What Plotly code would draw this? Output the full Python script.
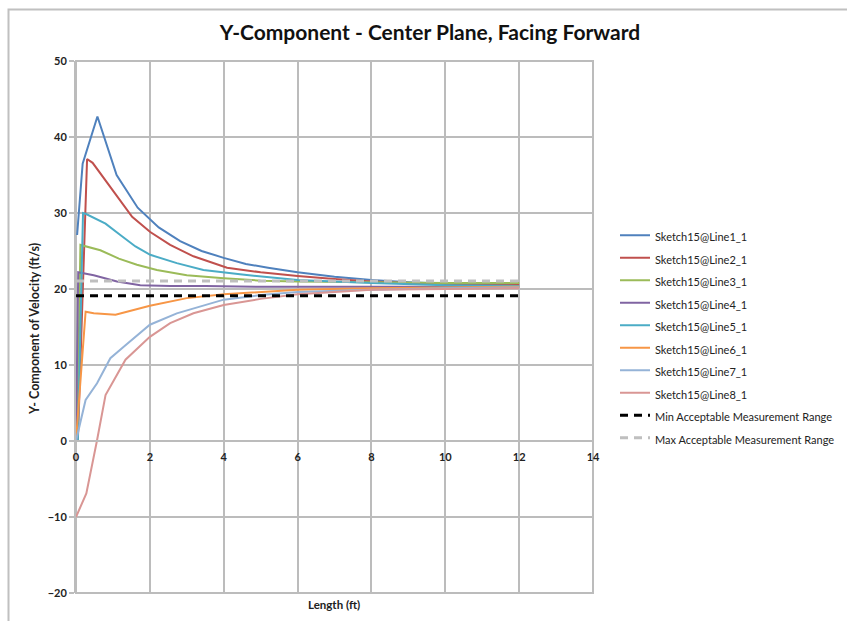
import plotly.graph_objects as go

# Velocity profiles along each sketch line (Length in ft, Y-velocity in ft/s)
line1_x = [0.03, 0.18, 0.58, 1.1, 1.67, 2.24, 2.82, 3.4, 4.0, 4.6, 5.2, 6, 7, 8, 9, 10, 11, 12]
line1_y = [27.1, 36.5, 42.7, 35.0, 30.7, 28.1, 26.3, 25.0, 24.1, 23.3, 22.8, 22.2, 21.6, 21.2, 20.9, 20.7, 20.6, 20.6]

line2_x = [0.05, 0.3, 0.45, 1.07, 1.52, 2.01, 2.55, 3.18, 4.09, 5, 6, 7, 8, 9, 10, 11, 12]
line2_y = [0, 37.1, 36.6, 32.4, 29.5, 27.5, 25.8, 24.3, 22.8, 22.2, 21.7, 21.3, 21.0, 20.8, 20.7, 20.6, 20.6]

line3_x = [0.03, 0.12, 0.66, 1.16, 1.65, 2.19, 3.0, 4, 5, 6, 8, 10, 12]
line3_y = [0, 25.8, 25.1, 24.0, 23.2, 22.5, 21.8, 21.4, 21.1, 21.0, 20.9, 20.8, 20.8]

line4_x = [0.0, 0.06, 0.48, 1.11, 1.74, 2.55, 3.5, 5, 7, 9, 12]
line4_y = [0, 22.2, 21.8, 21.0, 20.5, 20.4, 20.4, 20.3, 20.3, 20.3, 20.3]

line5_x = [0.05, 0.19, 0.26, 0.8, 1.2, 1.61, 2.01, 2.73, 3.45, 4.5, 6, 8, 10, 12]
line5_y = [0, 30.0, 29.9, 28.6, 27.1, 25.6, 24.5, 23.4, 22.5, 21.9, 21.2, 20.8, 20.5, 20.4]

line6_x = [0, 0.26, 0.48, 1.07, 2.0, 3.0, 4.0, 6, 8, 10, 12]
line6_y = [0, 17.0, 16.8, 16.6, 17.8, 18.8, 19.3, 19.9, 20.1, 20.2, 20.3]

line7_x = [0, 0.26, 0.57, 0.93, 1.34, 2.0, 2.73, 4.0, 5, 6, 8, 10, 12]
line7_y = [0, 5.4, 7.6, 10.9, 12.6, 15.3, 16.8, 18.6, 19.2, 19.6, 19.9, 20.1, 20.2]

line8_x = [0, 0.28, 0.57, 0.8, 1.34, 2.0, 2.55, 3.18, 4.0, 5, 6, 8, 10, 12]
line8_y = [-10, -6.9, 0.1, 6.05, 10.7, 13.7, 15.5, 16.8, 17.9, 18.7, 19.3, 19.9, 20.0, 20.1]

# Acceptable measurement band
range_x = [0, 12]
min_range = [19.1, 19.1]
max_range = [21.05, 21.05]

series_names = [f"Sketch15@Line{i}_1" for i in range(1, 9)]
series_x = [line1_x, line2_x, line3_x, line4_x, line5_x, line6_x, line7_x, line8_x]
series_y = [line1_y, line2_y, line3_y, line4_y, line5_y, line6_y, line7_y, line8_y]
colors = ["#4F81BD", "#C0504D", "#9BBB59", "#8064A2", "#4BACC6", "#F79646", "#95B3D7", "#D99694"]

FONT = "Lato, 'Open Sans', sans-serif"
GRID = "#bcbcbc"


def legend_label(text):
    # smaller visible text inside a taller legend row
    return f"<span style='font-size:11px'>{text}</span>"


fig = go.Figure()
for name, xs, ys, c in zip(series_names, series_x, series_y, colors):
    fig.add_trace(go.Scatter(x=xs, y=ys, mode="lines", name=legend_label(name),
                             line=dict(color=c, width=2)))

fig.add_trace(go.Scatter(x=range_x, y=min_range, mode="lines",
                         name=legend_label("Min Acceptable Measurement Range"),
                         line=dict(color="black", width=3, dash="8px,6px")))
fig.add_trace(go.Scatter(x=range_x, y=max_range, mode="lines",
                         name=legend_label("Max Acceptable Measurement Range"),
                         line=dict(color="#bfbfbf", width=3, dash="8px,6px")))

W, H = 847, 621
L, R, T, B = 76, 254, 61, 28
pw, ph = W - L - R, H - T - B

fig.update_layout(
    width=W, height=H,
    margin=dict(l=L, r=R, t=T, b=B, autoexpand=False),
    paper_bgcolor="white", plot_bgcolor="white",
    font=dict(family=FONT, color="#222222"),
    title=dict(text="<b>Y-Component - Center Plane, Facing Forward</b>",
               font=dict(size=21, family=FONT, color="#111111"),
               x=430 / W, xanchor="center", xref="container",
               y=1 - 33 / H, yanchor="middle", yref="container"),
    showlegend=True,
    legend=dict(x=(615 - L) / pw, y=1 - (219 - T) / ph, xanchor="left", yanchor="top",
                font=dict(size=15, family=FONT, color="#222222"),
                bgcolor="rgba(0,0,0,0)", itemwidth=30),
    xaxis=dict(range=[0, 14], dtick=2, tick0=0, showgrid=True, gridcolor=GRID, gridwidth=2,
               zeroline=False, showline=True, linecolor=GRID, linewidth=2,
               anchor="free", position=20 / 70,
               ticks="outside", ticklen=6, tickcolor=GRID, tickwidth=2,
               tickfont=dict(size=11, family=FONT, color="#222222", weight="bold")),
    yaxis=dict(range=[-20, 50], dtick=10, tick0=0, showgrid=True, gridcolor=GRID, gridwidth=2,
               zeroline=False, showline=True, linecolor=GRID, linewidth=2,
               ticks="outside", ticklen=5, tickcolor=GRID, tickwidth=2,
               tickfont=dict(size=11, family=FONT, color="#222222", weight="bold")),
    annotations=[
        dict(text="<b>Length (ft)</b>", xref="paper", yref="paper",
             x=(334 - L) / pw, y=-(604 - T - ph) / ph, xanchor="center", yanchor="middle",
             showarrow=False, font=dict(size=11.5, family=FONT, color="#222222")),
        dict(text="<b>Y- Component of Velocity (ft/s)</b>", xref="paper", yref="paper",
             x=(34 - L) / pw, y=1 - (329 - T) / ph, xanchor="center", yanchor="middle",
             textangle=-90, showarrow=False,
             font=dict(size=12.5, family=FONT, color="#222222")),
    ],
    shapes=[
        # plot area frame
        dict(type="rect", xref="x domain", yref="y domain", x0=0, x1=1, y0=0, y1=1,
             line=dict(color=GRID, width=2), layer="below"),
        # chart area border
        dict(type="rect", xref="paper", yref="paper",
             x0=(8.5 - L) / pw, x1=(H * 3 - L) / pw,
             y0=-3, y1=1 + (T - 9.5) / ph,
             line=dict(color="#c0c0c0", width=2), layer="below"),
    ],
)

fig.write_html("out.html")
